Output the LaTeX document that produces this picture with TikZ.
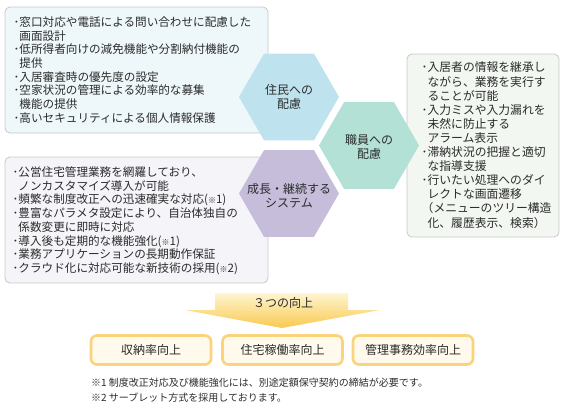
\documentclass[tikz,border=0pt]{standalone}
\usepackage{fontspec}
\setmainfont{Noto Sans CJK JP}
\usetikzlibrary{shapes.geometric}
\definecolor{txt}{HTML}{2B2B2B}
\definecolor{boxline}{HTML}{C8C8C8}
\definecolor{fillA}{HTML}{EEF7FA}
\definecolor{fillB}{HTML}{F5F4F9}
\definecolor{fillC}{HTML}{F2F7F1}
\definecolor{hexA}{HTML}{BFE3EE}
\definecolor{hexB}{HTML}{B3E1D5}
\definecolor{hexC}{HTML}{C5BDDA}
\definecolor{goldline}{HTML}{FAD37A}
\definecolor{goldfill}{HTML}{FFFAEB}
\definecolor{arrtop}{HTML}{FFF5D2}
\definecolor{arrbot}{HTML}{F8C94E}
\tikzset{
  infobox/.style={draw=boxline, line width=0.8bp, rounded corners=5bp},
  bodytext/.style={anchor=north west, inner sep=0pt, align=left, text=txt,
    font=\fontsize{11.6bp}{13.7bp}\selectfont},
  hexshape/.style={regular polygon, regular polygon sides=6, minimum size=100bp,
    inner sep=0pt, outer sep=0pt, draw=none},
  hextext/.style={inner sep=0pt, align=center, text=txt,
    font=\fontsize{12bp}{14bp}\selectfont},
  resultbox/.style={draw=goldline, fill=goldfill, line width=2.6bp, rounded corners=6bp,
    minimum width=120bp, minimum height=29bp, inner sep=0pt, text=txt,
    font=\fontsize{12bp}{14bp}\selectfont},
  notetext/.style={anchor=west, inner sep=0pt, text=txt,
    font=\fontsize{10bp}{12bp}\selectfont}
}
\newcommand{\cont}{\hspace*{0.5em}}
\begin{document}
\begin{tikzpicture}[x=1bp,y=-1bp]
\useasboundingbox (0,0) rectangle (565,410);
% boxes
\path[infobox, fill=fillA] (5,7) rectangle (268,133);
\path[infobox, fill=fillB] (5,157) rectangle (268,283);
\path[infobox, fill=fillC] (407,54) rectangle (559,237);
% texts
\node[bodytext] (ta) at (13.5,16.5) {･窓口対応や電話による問い合わせに配慮した\\\cont 画面設計\\･低所得者向けの減免機能や分割納付機能の\\\cont 提供\\･入居審査時の優先度の設定\\･空家状況の管理による効率的な募集\\\cont 機能の提供\\･高いセキュリティによる個人情報保護};
\node[bodytext] (tb) at (12.5,166.5) {･公営住宅管理業務を網羅しており、\\\cont ノンカスタマイズ導入が可能\\･頻繁な制度改正への迅速確実な対応({\fontsize{8bp}{10bp}\selectfont ※}1)\\･豊富なパラメタ設定により、自治体独自の\\\cont 係数変更に即時に対応\\･導入後も定期的な機能強化({\fontsize{8bp}{10bp}\selectfont ※}1)\\･業務アプリケーションの長期動作保証\\･クラウド化に対応可能な新技術の採用({\fontsize{8bp}{10bp}\selectfont ※}2)};
\node[bodytext, font=\fontsize{11.8bp}{14.1bp}\selectfont] (tc) at (421.5,61.8) {･入居者の情報を継承し\\\cont ながら、業務を実行す\\\cont ることが可能\\･入力ミスや入力漏れを\\\cont 未然に防止する\\\cont アラーム表示\\･滞納状況の把握と適切\\\cont な指導支援\\･行いたい処理へのダイ\\\cont レクトな画面遷移\\（メニューのツリー構造\\\cont 化、履歴表示、検索）};
% hexagons
\node[hexshape, fill=hexA] (h1) at (289,97) {};
\node[hexshape, fill=hexB] (h2) at (369,145.5) {};
\node[hexshape, fill=hexC] (h3) at (289,193.5) {};
\node[hextext] (l1) at (h1.center) {住民への\\配慮};
\node[hextext] (l2) at ([yshift=-1.5bp]h2.center) {職員への\\配慮};
\node[hextext] (l3) at ([yshift=-2bp]h3.center) {成長・継続する\\システム};
% arrow
\shade[top color=arrtop, bottom color=arrbot] (215,293) -- (348,293) -- (348,310) -- (380,310) -- (282,328) -- (185,310) -- (215,310) -- cycle;
\node[hextext] (arr) at (283,303) {３つの向上};
% results
\node[resultbox] (r1) at (151,350) {収納率向上};
\node[resultbox] (r2) at (282.5,350) {住宅稼働率向上};
\node[resultbox] (r3) at (413,350) {管理事務効率向上};
% notes
\node[notetext] (n1) at (91,383) {※1 制度改正対応及び機能強化には、別途定額保守契約の締結が必要です。};
\node[notetext] (n2) at (91,398) {※2 サーブレット方式を採用しております。};
\end{tikzpicture}
\end{document}
